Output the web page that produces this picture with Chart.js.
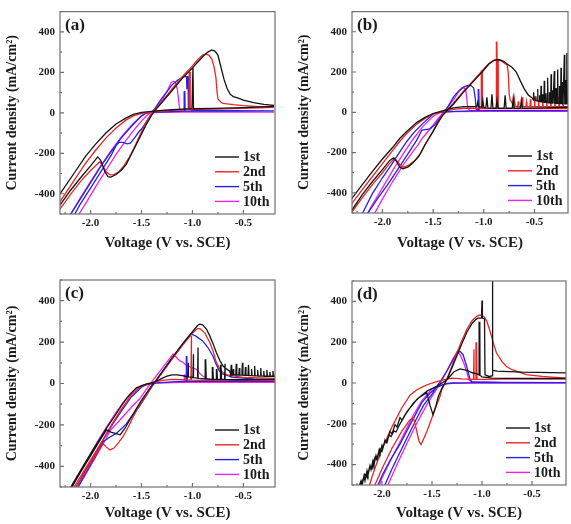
<!DOCTYPE html>
<html>
<head>
<meta charset="utf-8">
<script src="https://cdn.jsdelivr.net/npm/chart.js@4.4.1/dist/chart.umd.min.js"></script>
<style>
html,body{margin:0;padding:0;background:#fff;}
#fig{position:relative;width:571px;height:524px;overflow:hidden;background:#fff;}
#fig canvas{position:absolute;}
</style>
</head>
<body>
<div id="fig">
  <canvas id="pa"></canvas>
  <canvas id="pb"></canvas>
  <canvas id="pc"></canvas>
  <canvas id="pd"></canvas>
</div>
<script>
/* ------------ data : [voltage V, current mA/cm2] ------------ */
const CYCLES  = ['1st','2nd','5th','10th'];
const X_TICKS = [-2.0,-1.5,-1.0,-0.5];
const Y_TICKS = [-400,-200,0,200,400];

/* panel (a) */
const A_1ST = [[-0.2,32],[-0.5,26],[-0.8,22],[-0.99,20],[-0.995,228],[-1.0,228],[-1.005,20],
 [-1.2,15],[-1.3,12],[-1.4,7],[-1.5,2],[-1.58,-8],[-1.65,-25],[-1.75,-55],[-1.85,-100],[-1.95,-155],[-2.05,-215],[-2.15,-290],[-2.32,-415],
 [-2.32,-470],[-2.2,-385],[-2.1,-322],[-2.0,-262],[-1.93,-218],[-1.9,-235],[-1.86,-290],[-1.83,-315],[-1.8,-318],[-1.75,-305],[-1.7,-285],[-1.65,-255],[-1.6,-205],[-1.55,-155],[-1.5,-105],[-1.45,-55],[-1.4,-12],[-1.35,22],[-1.3,50],[-1.2,110],[-1.1,170],[-1.0,222],[-0.95,250],[-0.9,277],[-0.85,300],[-0.81,311],[-0.78,305],[-0.75,285],[-0.72,225],[-0.69,165],[-0.66,120],[-0.63,92],[-0.6,80],[-0.55,72],[-0.5,63],[-0.4,50],[-0.3,42],[-0.2,37]];
const A_2ND = [[-0.2,27],[-0.5,22],[-0.8,18],[-1.018,16],[-1.022,200],[-1.028,200],[-1.032,16],
 [-1.2,12],[-1.3,9],[-1.4,4],[-1.5,-3],[-1.58,-15],[-1.65,-35],[-1.75,-75],[-1.85,-125],[-1.95,-185],[-2.05,-250],[-2.15,-325],[-2.32,-455],
 [-2.32,-490],[-2.2,-405],[-2.1,-340],[-2.0,-285],[-1.91,-242],[-1.88,-262],[-1.85,-290],[-1.81,-307],[-1.77,-305],[-1.72,-290],[-1.67,-260],[-1.62,-220],[-1.57,-170],[-1.52,-115],[-1.47,-62],[-1.42,-18],[-1.37,15],[-1.3,55],[-1.2,118],[-1.1,178],[-1.0,232],[-0.95,262],[-0.9,285],[-0.87,291],[-0.84,285],[-0.81,265],[-0.79,230],[-0.77,175],[-0.76,110],[-0.75,68],[-0.72,52],[-0.7,47],[-0.6,40],[-0.5,35],[-0.35,30],[-0.2,28]];
const A_5TH = [[-0.2,10],[-0.6,9],[-1.0,8],[-1.072,8],[-1.075,107],[-1.08,107],[-1.083,8],
 [-1.2,6],[-1.35,4],[-1.45,0],[-1.5,-15],[-1.6,-68],[-1.7,-125],[-1.8,-193],[-1.9,-265],[-2.0,-345],[-2.1,-425],[-2.2,-505],
 [-2.16,-505],[-2.1,-450],[-2.0,-372],[-1.9,-292],[-1.8,-212],[-1.75,-162],[-1.72,-146],[-1.68,-146],[-1.64,-153],[-1.61,-150],[-1.57,-125],[-1.52,-90],[-1.5,-80],[-1.45,-42],[-1.4,-5],[-1.35,35],[-1.3,72],[-1.25,105],[-1.2,138],[-1.15,160],[-1.1,175],[-1.07,180],[-1.058,178],[-1.055,120],[-1.05,120],[-1.047,178],[-1.043,178],[-1.04,20],[-1.0,13],[-0.6,11],[-0.2,10]];
const A_10TH = [[-0.2,3],[-0.8,3],[-1.1,3],[-1.3,2],[-1.45,0],[-1.5,-15],[-1.6,-62],[-1.7,-120],[-1.8,-188],[-1.9,-262],[-2.0,-340],[-2.1,-420],[-2.2,-505],
 [-2.12,-505],[-2.05,-450],[-1.95,-365],[-1.85,-285],[-1.75,-205],[-1.65,-135],[-1.55,-70],[-1.5,-40],[-1.45,-15],[-1.4,5],[-1.35,30],[-1.3,62],[-1.25,105],[-1.21,148],[-1.19,156],[-1.17,150],[-1.15,120],[-1.135,60],[-1.125,15],[-1.1,6],[-0.8,4],[-0.2,3]];

/* panel (b) */
const B_1ST = [[-0.17,25],[-0.4,22],[-0.6,20],[-0.62,20],[-0.63,60],[-0.64,20],[-0.70,20],[-0.71,70],[-0.72,20],[-0.78,20],[-0.79,85],[-0.80,20],[-0.86,20],[-0.87,60],[-0.88,20],[-0.91,20],[-0.92,90],[-0.93,20],[-0.96,22],[-0.97,75],[-0.98,22],[-1.0,24],[-1.01,60],[-1.02,25],[-1.05,27],[-1.06,50],[-1.07,28],
 [-1.2,28],[-1.3,22],[-1.4,8],[-1.5,-6],[-1.58,-25],[-1.66,-50],[-1.75,-90],[-1.83,-130],[-1.9,-175],[-2.0,-232],[-2.1,-295],[-2.2,-360],[-2.32,-440],
 [-2.32,-500],[-2.2,-410],[-2.1,-345],[-2.0,-285],[-1.93,-240],[-1.89,-226],[-1.86,-245],[-1.83,-272],[-1.8,-280],[-1.75,-272],[-1.7,-252],[-1.64,-218],[-1.58,-160],[-1.51,-104],[-1.45,-50],[-1.4,-12],[-1.35,15],[-1.3,40],[-1.2,100],[-1.1,155],[-1.0,210],[-0.95,240],[-0.9,258],[-0.85,262],[-0.8,252],[-0.77,240],[-0.72,222],[-0.68,200],[-0.64,156],[-0.6,115],[-0.56,85],[-0.52,70],
 [-0.513,62],[-0.509,99],[-0.505,60],[-0.49,58],[-0.487,80],[-0.484,58],[-0.474,57],[-0.47,116],[-0.466,56],[-0.455,55],[-0.452,85],[-0.449,54],[-0.44,53],[-0.436,132],[-0.432,52],[-0.422,52],[-0.419,90],[-0.416,51],[-0.408,50],[-0.404,156],[-0.4,50],[-0.39,49],[-0.387,95],[-0.384,49],[-0.375,48],[-0.371,172],[-0.367,48],[-0.357,47],[-0.354,100],[-0.351,47],[-0.341,46],[-0.337,189],[-0.333,46],[-0.323,46],[-0.32,110],[-0.317,45],[-0.309,45],[-0.305,205],[-0.301,45],[-0.291,44],[-0.288,120],[-0.285,44],[-0.276,44],[-0.272,213],[-0.268,44],[-0.258,43],[-0.255,130],[-0.252,43],[-0.243,43],[-0.239,221],[-0.235,43],[-0.225,42],[-0.222,150],[-0.219,42],[-0.21,42],[-0.206,286],[-0.202,42],[-0.194,42],[-0.191,160],[-0.188,42],[-0.183,42],[-0.18,294],[-0.176,42],[-0.17,42]];
const B_2ND = [[-0.17,18],[-0.5,18],[-0.84,18],[-0.855,18],[-0.858,265],[-0.862,18],[-0.868,18],[-0.872,352],[-0.876,18],[-1.01,18],[-1.015,205],[-1.022,205],[-1.025,18],
 [-1.1,20],[-1.2,20],[-1.3,15],[-1.4,4],[-1.5,-8],[-1.58,-30],[-1.66,-58],[-1.75,-100],[-1.83,-145],[-1.9,-190],[-2.0,-255],[-2.1,-320],[-2.2,-385],[-2.32,-465],
 [-2.32,-510],[-2.2,-425],[-2.1,-360],[-2.0,-300],[-1.93,-255],[-1.88,-228],[-1.85,-245],[-1.82,-265],[-1.79,-272],[-1.74,-262],[-1.68,-240],[-1.62,-200],[-1.56,-145],[-1.5,-92],[-1.45,-45],[-1.4,-8],[-1.35,18],[-1.3,45],[-1.2,105],[-1.1,160],[-1.0,215],[-0.95,242],[-0.9,258],[-0.87,262],[-0.83,256],[-0.8,245],[-0.77,235],[-0.76,200],[-0.75,90],[-0.74,62],[-0.72,45],
 [-0.71,30],[-0.70,70],[-0.69,30],[-0.665,28],[-0.66,55],[-0.655,28],[-0.625,28],[-0.62,75],[-0.615,28],[-0.585,28],[-0.58,50],[-0.575,28],[-0.545,28],[-0.54,65],[-0.535,28],[-0.505,28],[-0.5,80],[-0.495,28],[-0.465,28],[-0.46,60],[-0.455,28],[-0.425,28],[-0.42,75],[-0.415,28],[-0.385,28],[-0.38,55],[-0.375,28],[-0.345,28],[-0.34,70],[-0.335,28],[-0.305,28],[-0.3,60],[-0.295,28],[-0.265,28],[-0.26,75],[-0.255,28],[-0.225,28],[-0.22,55],[-0.215,28],[-0.17,28]];
const B_5TH = [[-0.17,8],[-0.7,8],[-1.045,8],[-1.05,115],[-1.055,8],[-1.2,6],[-1.35,3],[-1.45,-2],[-1.5,-8],[-1.6,-55],[-1.68,-95],[-1.76,-145],[-1.84,-205],[-1.92,-267],[-2.0,-325],[-2.1,-405],[-2.2,-505],
 [-2.15,-505],[-2.05,-430],[-1.95,-360],[-1.86,-292],[-1.76,-215],[-1.66,-137],[-1.61,-88],[-1.53,-82],[-1.48,-60],[-1.43,-25],[-1.38,5],[-1.3,75],[-1.25,105],[-1.2,125],[-1.16,133],[-1.13,134],[-1.1,120],[-1.085,70],[-1.075,15],[-1.05,10],[-0.7,8],[-0.17,8]];
const B_10TH = [[-0.17,5],[-1.0,5],[-1.3,3],[-1.42,0],[-1.45,-5],[-1.5,-20],[-1.6,-70],[-1.7,-135],[-1.8,-210],[-1.9,-290],[-2.0,-375],[-2.1,-460],[-2.15,-505],
 [-2.08,-505],[-2.0,-430],[-1.9,-345],[-1.8,-265],[-1.7,-195],[-1.66,-169],[-1.6,-125],[-1.5,-63],[-1.45,-30],[-1.4,0],[-1.35,30],[-1.3,62],[-1.25,100],[-1.22,120],[-1.2,123],[-1.18,115],[-1.17,80],[-1.16,25],[-1.14,10],[-0.8,6],[-0.17,5]];

/* panel (c) */
const C_1ST = [[-0.19,20],[-0.4,19],[-0.6,18],[-0.675,20],[-0.68,95],[-0.685,20],[-0.715,20],[-0.72,90],[-0.725,20],[-0.755,20],[-0.76,70],[-0.765,20],[-0.795,20],[-0.8,80],[-0.805,20],[-0.865,22],[-0.87,117],[-0.875,22],[-0.94,25],[-0.945,174],[-0.95,25],[-0.985,28],[-0.99,141],[-0.995,28],[-1.035,32],[-1.04,100],[-1.045,32],
 [-1.07,35],[-1.1,38],[-1.15,42],[-1.2,42],[-1.25,36],[-1.3,25],[-1.35,12],[-1.4,3],[-1.45,-2],[-1.5,-10],[-1.55,-21],[-1.62,-55],[-1.68,-94],[-1.76,-155],[-1.843,-216],[-1.95,-300],[-2.05,-380],[-2.2,-505],
 [-2.2,-515],[-2.1,-430],[-2.0,-350],[-1.9,-268],[-1.843,-224],[-1.8,-235],[-1.71,-248],[-1.66,-215],[-1.615,-175],[-1.517,-94],[-1.45,-45],[-1.4,-10],[-1.35,20],[-1.3,55],[-1.25,90],[-1.2,125],[-1.1,190],[-1.0,250],[-0.95,280],[-0.93,287],[-0.9,283],[-0.86,260],[-0.83,230],[-0.8,195],[-0.765,149],[-0.73,110],[-0.7,84],[-0.66,68],[-0.634,60],
 [-0.625,42],[-0.62,90],[-0.615,42],[-0.605,42],[-0.6,70],[-0.595,42],[-0.575,41],[-0.57,95],[-0.565,41],[-0.545,41],[-0.54,75],[-0.535,40],[-0.515,40],[-0.51,100],[-0.505,40],[-0.485,39],[-0.48,80],[-0.475,39],[-0.455,39],[-0.45,90],[-0.445,38],[-0.425,38],[-0.42,70],[-0.415,38],[-0.395,37],[-0.39,85],[-0.385,37],[-0.365,37],[-0.36,65],[-0.355,36],[-0.335,36],[-0.33,75],[-0.325,36],[-0.305,36],[-0.3,60],[-0.295,35],[-0.275,35],[-0.27,65],[-0.265,35],[-0.245,35],[-0.24,55],[-0.235,35],[-0.215,35],[-0.21,60],[-0.205,35],[-0.19,35]];
const C_2ND = [[-0.19,15],[-0.6,15],[-0.95,15],[-1.005,16],[-1.01,230],[-1.015,16],[-1.1,18],[-1.2,20],[-1.3,15],[-1.4,3],[-1.5,-12],[-1.6,-55],[-1.7,-125],[-1.8,-205],[-1.876,-270],[-1.95,-330],[-2.05,-410],[-2.18,-515],
 [-2.16,-515],[-2.05,-425],[-1.95,-345],[-1.876,-290],[-1.85,-305],[-1.81,-321],[-1.77,-312],[-1.72,-282],[-1.68,-256],[-1.63,-210],[-1.58,-159],[-1.52,-105],[-1.45,-55],[-1.4,-15],[-1.35,18],[-1.3,50],[-1.2,118],[-1.1,183],[-1.0,243],[-0.96,262],[-0.945,266],[-0.92,263],[-0.88,245],[-0.83,198],[-0.8,160],[-0.765,101],[-0.73,70],[-0.7,52],[-0.65,40],[-0.5,30],[-0.19,25]];
const C_5TH = [[-0.19,10],[-0.6,10],[-1.05,10],[-1.055,133],[-1.06,10],[-1.2,8],[-1.35,3],[-1.45,-5],[-1.5,-18],[-1.6,-65],[-1.7,-135],[-1.8,-210],[-1.876,-272],[-1.95,-335],[-2.05,-420],[-2.16,-515],
 [-2.14,-515],[-2.05,-435],[-1.95,-350],[-1.876,-281],[-1.82,-262],[-1.745,-240],[-1.69,-215],[-1.65,-195],[-1.6,-160],[-1.52,-110],[-1.45,-55],[-1.4,-15],[-1.35,18],[-1.3,52],[-1.2,120],[-1.1,185],[-1.05,220],[-1.01,238],[-0.97,230],[-0.9,206],[-0.85,175],[-0.8,133],[-0.77,95],[-0.735,60],[-0.7,45],[-0.6,30],[-0.4,22],[-0.19,18]];
const C_10TH = [[-0.19,5],[-0.8,5],[-1.07,5],[-1.075,45],[-1.08,5],[-1.2,4],[-1.35,2],[-1.45,-5],[-1.55,-25],[-1.65,-75],[-1.75,-140],[-1.85,-215],[-1.95,-295],[-2.05,-385],[-2.15,-470],[-2.2,-515],
 [-2.14,-515],[-2.05,-440],[-1.95,-355],[-1.85,-268],[-1.81,-228],[-1.7,-170],[-1.6,-115],[-1.52,-75],[-1.47,-40],[-1.42,-5],[-1.35,40],[-1.3,72],[-1.25,105],[-1.19,143],[-1.16,128],[-1.14,117],[-1.12,108],[-1.1,105],[-1.07,92],[-1.04,84],[-1.0,76],[-0.96,68],[-0.93,50],[-0.9,36],[-0.85,22],[-0.8,16],[-0.5,12],[-0.19,10]];

/* panel (d) */
const D_1ST = [[-0.16,22],[-0.6,22],[-0.9,24],[-1.0,30],[-1.02,38],[-1.022,300],[-1.028,300],[-1.03,40],[-1.05,45],[-1.09,49],[-1.15,62],[-1.22,69],[-1.28,55],[-1.35,16],[-1.4,0],[-1.45,-15],[-1.55,-40],[-1.65,-80],[-1.75,-140],
 [-1.8,-182],[-1.82,-170],[-1.85,-215],[-1.87,-205],[-1.9,-250],[-1.92,-238],[-1.95,-292],[-1.97,-280],[-2.0,-335],[-2.02,-322],[-2.05,-378],[-2.07,-365],[-2.1,-420],[-2.12,-405],[-2.15,-462],[-2.17,-448],[-2.22,-510],
 [-2.24,-520],[-2.21,-480],[-2.2,-505],[-2.18,-455],[-2.17,-480],[-2.15,-430],[-2.14,-452],[-2.12,-405],[-2.11,-425],[-2.09,-380],[-2.08,-400],[-2.06,-355],[-2.05,-372],[-2.03,-330],[-2.02,-345],[-2.0,-305],[-1.99,-318],[-1.97,-280],[-1.96,-292],[-1.93,-255],[-1.91,-262],[-1.88,-235],[-1.86,-240],[-1.82,-200],[-1.76,-150],[-1.685,-98],[-1.62,-68],[-1.585,-57],[-1.552,-49],[-1.52,-110],[-1.49,-155],[-1.46,-110],[-1.436,-65],[-1.4,-25],[-1.37,0],[-1.33,40],[-1.3,75],[-1.25,135],[-1.2,195],[-1.15,250],[-1.1,292],[-1.06,312],[-1.04,318],[-1.005,318],[-1.0,404],[-0.996,318],[-0.975,315],[-0.97,40],[-0.93,32],[-0.9,35],[-0.896,35],[-0.894,540],[-0.892,62],[-0.85,58],[-0.6,53],[-0.16,50]];
const D_2ND = [[-0.16,20],[-0.6,20],[-1.0,18],[-1.05,18],[-1.055,200],[-1.06,18],[-1.075,18],[-1.08,165],[-1.085,18],[-1.2,20],[-1.3,24],[-1.4,14],[-1.5,0],[-1.58,-15],[-1.65,-33],[-1.72,-60],[-1.8,-120],[-1.9,-215],[-2.0,-325],[-2.05,-390],[-2.1,-460],[-2.13,-510],
 [-2.08,-510],[-2.0,-420],[-1.9,-320],[-1.8,-235],[-1.72,-180],[-1.685,-171],[-1.66,-220],[-1.63,-285],[-1.61,-302],[-1.58,-270],[-1.55,-235],[-1.52,-196],[-1.47,-130],[-1.42,-65],[-1.4,-30],[-1.35,20],[-1.3,85],[-1.25,150],[-1.2,210],[-1.15,265],[-1.1,305],[-1.05,328],[-1.02,334],[-0.98,325],[-0.954,305],[-0.93,270],[-0.904,228],[-0.88,185],[-0.855,147],[-0.8,105],[-0.755,81],[-0.7,65],[-0.556,41],[-0.4,32],[-0.16,24]];
const D_5TH = [[-0.16,2],[-0.8,2],[-1.1,2],[-1.3,0],[-1.35,-2],[-1.45,-20],[-1.52,-50],[-1.6,-95],[-1.72,-205],[-1.82,-300],[-1.92,-380],[-2.0,-455],[-2.05,-510],
 [-1.98,-510],[-1.9,-420],[-1.8,-320],[-1.75,-270],[-1.65,-170],[-1.585,-110],[-1.5,-55],[-1.45,-15],[-1.42,5],[-1.35,60],[-1.29,114],[-1.25,145],[-1.22,155],[-1.19,140],[-1.153,81],[-1.12,17],[-1.1,5],[-0.8,3],[-0.16,2]];
const D_10TH = [[-0.16,0],[-1.0,0],[-1.3,-2],[-1.4,-8],[-1.5,-30],[-1.6,-85],[-1.7,-170],[-1.8,-270],[-1.9,-365],[-2.0,-465],[-2.03,-510],
 [-1.95,-510],[-1.85,-400],[-1.75,-295],[-1.65,-195],[-1.55,-105],[-1.48,-50],[-1.42,-5],[-1.36,50],[-1.3,110],[-1.26,145],[-1.25,152],[-1.22,140],[-1.18,95],[-1.15,50],[-1.13,15],[-1.1,5],[-0.8,2],[-0.16,1]];

const SERIES = {pa:[A_1ST,A_2ND,A_5TH,A_10TH], pb:[B_1ST,B_2ND,B_5TH,B_10TH],
                pc:[C_1ST,C_2ND,C_5TH,C_10TH], pd:[D_1ST,D_2ND,D_5TH,D_10TH]};
const TAGS   = {pa:'(a)', pb:'(b)', pc:'(c)', pd:'(d)'};
const X_MAX  = {pa:-0.19, pb:-0.17, pc:-0.19, pd:-0.16};

/* ------------ look ------------ */
const COLORS = ['#141414','#ec2424','#2424e4','#ee22ee'];
const SERIF  = "'Liberation Serif','Times New Roman',serif";
const INK    = '#1c1c1c';
const FRAME  = '#707070';
// canvas box [left,top,w,h] and plot box [l,t,r,b], page px; title centres
const LAYOUT = {
  pa:{box:[0,0,290,262],   plot:[60,9,275,214],       xt:243, yt:12.5},
  pb:{box:[290,0,281,262], plot:[352,9,568,213],      xt:243, yt:304},
  pc:{box:[0,262,290,262], plot:[60,280,275,487],     xt:513, yt:12.5},
  pd:{box:[290,262,281,262], plot:[352,281,566,485],  xt:513, yt:304}
};

/* ------------ frame, inward ticks, legend, tag ------------ */
const figPlugin = {
  id:'fig',
  afterDatasetsDraw(chart){
    const {ctx, chartArea:a, scales:{x,y}} = chart;
    ctx.save();
    ctx.strokeStyle = FRAME; ctx.lineWidth = 1.2;
    ctx.strokeRect(a.left, a.top, a.right-a.left, a.bottom-a.top);
    ctx.beginPath();
    X_TICKS.forEach(v=>{
      [[v,4],[v-0.25,2]].forEach(([t,len])=>{
        if(t<x.min||t>x.max) return;
        const px = x.getPixelForValue(t);
        ctx.moveTo(px,a.bottom); ctx.lineTo(px,a.bottom-len);
      });
    });
    [-500,-400,-300,-200,-100,0,100,200,300,400,500].forEach(v=>{
      const py = y.getPixelForValue(v), len = Y_TICKS.includes(v)?4:2;
      ctx.moveTo(a.left,py); ctx.lineTo(a.left+len,py);
    });
    ctx.stroke();

    /* legend */
    ctx.font = `bold 14px ${SERIF}`; ctx.textBaseline = 'middle'; ctx.fillStyle = INK;
    chart.data.datasets.forEach((d,i)=>{
      const ly = a.bottom - 57 + i*14.8;
      ctx.strokeStyle = d.borderColor; ctx.lineWidth = 1.4;
      ctx.beginPath(); ctx.moveTo(a.right-60,ly); ctx.lineTo(a.right-36,ly); ctx.stroke();
      ctx.fillText(d.label, a.right-32, ly+0.5);
    });

    /* panel tag */
    ctx.font = `bold 17px ${SERIF}`;
    ctx.fillText(chart.options.plugins.fig.tag, a.left+5, a.top+14);
    ctx.restore();
  }
};

/* ------------ build ------------ */
function makePanel(id){
  const L = LAYOUT[id], [bl,bt,bw,bh] = L.box, [pl,pt,pr,pb] = L.plot;
  const cv = document.getElementById(id);
  cv.width = bw; cv.height = bh;
  cv.style.left = bl+'px'; cv.style.top = bt+'px';
  const tickFont = {family:SERIF, size:11, weight:'bold'};
  return new Chart(cv,{
    type:'scatter',
    data:{datasets:SERIES[id].map((s,i)=>({
      label:CYCLES[i], data:s.map(p=>({x:p[0],y:p[1]})),
      showLine:true, borderColor:COLORS[i], borderWidth:1.3,
      pointRadius:0, tension:0, fill:false
    }))},
    options:{
      animation:false, responsive:false, devicePixelRatio:1,
      layout:{padding:{left:0, top:pt-bt, right:bl+bw-pr, bottom:0}},
      plugins:{legend:{display:false}, tooltip:{enabled:false}, fig:{tag:TAGS[id]}},
      scales:{
        x:{type:'linear', min:-2.3, max:X_MAX[id],
           afterBuildTicks:s=>{s.ticks = X_TICKS.map(v=>({value:v}));},
           afterFit:s=>{s.height = bt+bh-pb;},
           grid:{display:false, drawTicks:false}, border:{display:false},
           ticks:{font:tickFont, color:INK, padding:3, maxRotation:0, callback:v=>v.toFixed(1)},
           title:{display:true, text:'Voltage (V vs. SCE)', color:INK,
                  font:{family:SERIF, size:15, weight:'bold'},
                  padding:{top:0, bottom:bt+bh-L.xt-9}}},
        y:{type:'linear', min:-500, max:500,
           afterBuildTicks:s=>{s.ticks = Y_TICKS.map(v=>({value:v}));},
           afterFit:s=>{s.width = pl-bl;},
           grid:{display:false, drawTicks:false}, border:{display:false},
           ticks:{font:tickFont, color:INK, padding:5},
           title:{display:true, text:'Current density (mA/cm²)', color:INK,
                  font:{family:SERIF, size:14, weight:'bold'},
                  padding:{top:L.yt-bl-8.4, bottom:0}}}
      }
    },
    plugins:[figPlugin]
  });
}

['pa','pb','pc','pd'].forEach(makePanel);
</script>
</body>
</html>
